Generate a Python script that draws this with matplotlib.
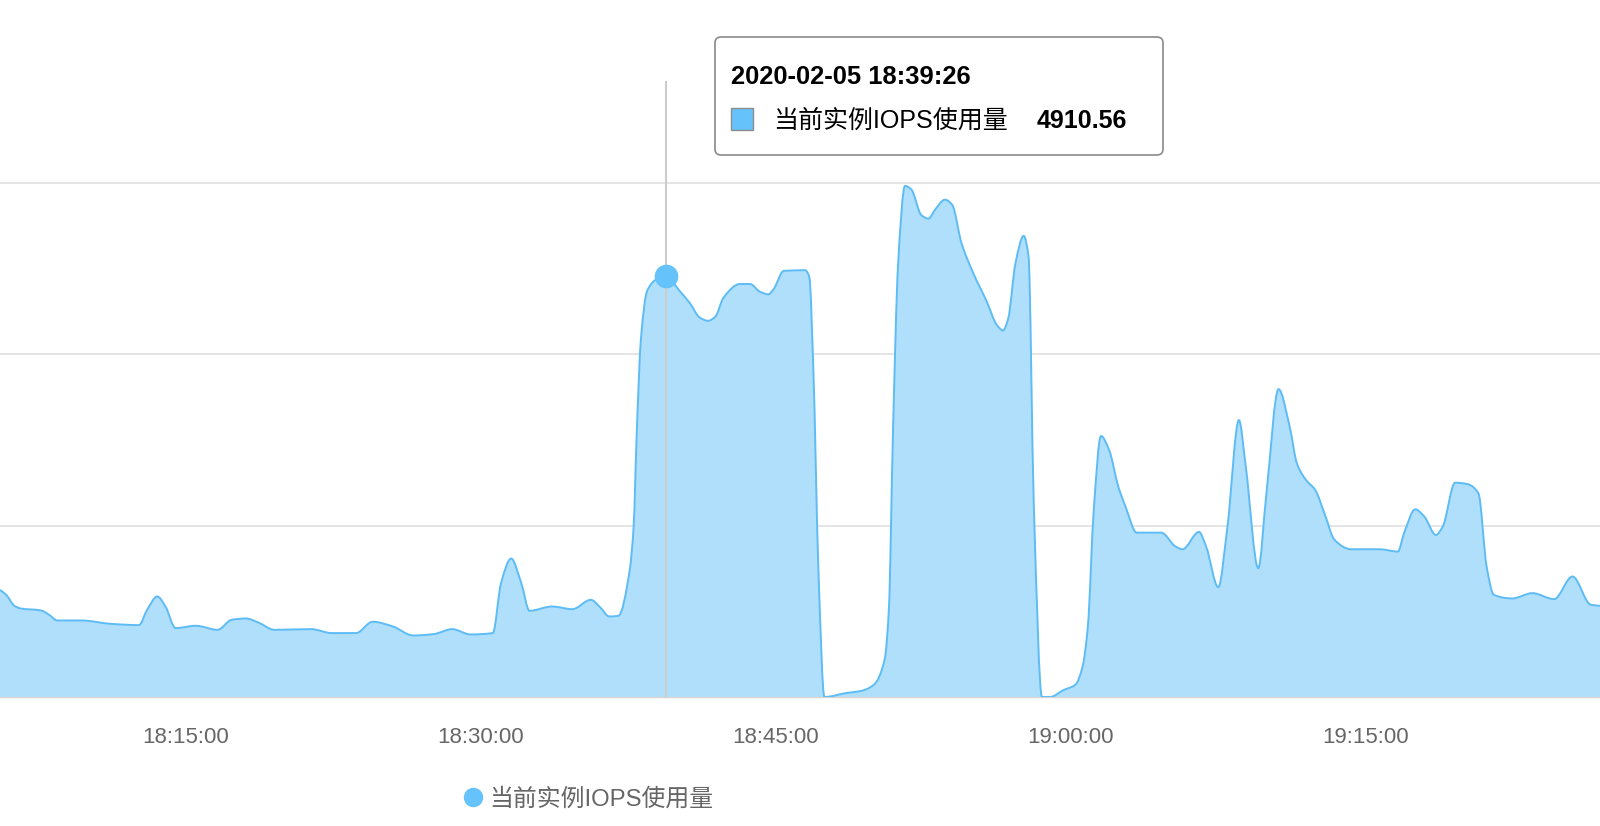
import numpy as np
import pandas as pd
import matplotlib
matplotlib.use("Agg")
import matplotlib.pyplot as plt
import matplotlib.dates as mdates
from matplotlib.path import Path
from matplotlib.patches import PathPatch, FancyBboxPatch, Rectangle
from matplotlib.lines import Line2D
from matplotlib.transforms import IdentityTransform

# ---------------- data ----------------
DATE = "2020-02-05"
series_name = "当前实例IOPS使用量"

times = [
    "18:05:33", "18:05:52", "18:06:17", "18:06:36", "18:07:38", "18:08:03", "18:08:28",
    "18:09:42", "18:11:10", "18:12:37", "18:13:02", "18:13:33", "18:13:58", "18:14:29",
    "18:15:31", "18:16:37", "18:17:20", "18:18:04", "18:18:41", "18:19:31", "18:21:23",
    "18:22:25", "18:23:40", "18:24:30", "18:25:32", "18:26:34", "18:27:37", "18:28:33",
    "18:29:29", "18:30:37", "18:31:02", "18:31:33", "18:32:04", "18:32:29", "18:33:38",
    "18:34:40", "18:35:36", "18:36:07", "18:36:32", "18:37:00", "18:37:35", "18:37:47",
    "18:37:56", "18:38:09", "18:38:28", "18:38:59", "18:39:26", "18:40:07", "18:40:38",
    "18:41:09", "18:41:34", "18:41:56", "18:42:21", "18:43:11", "18:43:42", "18:44:13",
    "18:44:38", "18:44:54", "18:45:25", "18:46:30", "18:46:43", "18:46:55", "18:47:11",
    "18:47:29", "18:48:38", "18:49:18", "18:49:59", "18:50:33", "18:50:46", "18:50:58",
    "18:51:14", "18:51:35", "18:51:54", "18:52:25", "18:52:47", "18:53:06", "18:53:37",
    "18:53:59", "18:54:27", "18:55:04", "18:55:44", "18:56:16", "18:56:34", "18:56:50",
    "18:57:12", "18:57:37", "18:57:52", "18:58:08", "18:58:33", "18:58:58", "18:59:38",
    "19:00:15", "19:00:37", "19:00:53", "19:01:11", "19:01:33", "19:01:58", "19:02:26",
    "19:02:48", "19:03:22", "19:04:37", "19:05:21", "19:05:42", "19:06:32", "19:06:54",
    "19:07:31", "19:07:59", "19:08:34", "19:08:55", "19:09:33", "19:09:58", "19:10:35",
    "19:11:09", "19:11:31", "19:11:59", "19:12:27", "19:12:55", "19:13:26", "19:14:16",
    "19:15:43", "19:16:39", "19:16:58", "19:17:32", "19:18:00", "19:18:35", "19:18:56",
    "19:19:34", "19:20:11", "19:20:45", "19:21:10", "19:21:32", "19:22:28", "19:23:30",
    "19:24:36", "19:25:32", "19:26:28", "19:26:56",
]
values = [
    1250, 1192, 1064, 1033, 1010, 959, 893,
    893, 854, 839, 1017, 1173, 1056, 804,
    831, 784, 901, 916, 870, 784, 792,
    746, 746, 878, 823, 718, 734, 792,
    730, 746, 1328, 1615, 1328, 1006, 1056,
    1025, 1134, 1037, 940, 947, 1486, 2008,
    3052, 4177, 4739, 4879, 4910.56, 4739, 4598,
    4426, 4390, 4438, 4659, 4819, 4819, 4727,
    4699, 4759, 4972, 4980, 4900, 3855, 1446,
    0, 48, 68, 140, 442, 1044, 3052,
    5060, 5964, 5924, 5622, 5582, 5683, 5803,
    5743, 5301, 4940, 4618, 4337, 4277, 4418,
    5060, 5381, 5140, 2249, 0, 0, 80,
    144, 357, 823, 2182, 3045, 2881, 2454,
    2221, 1918, 1918, 1755, 1724, 1926, 1755,
    1282, 1988, 3231, 2687, 1503, 2377, 3592,
    3153, 2726, 2532, 2415, 2144, 1833, 1724,
    1724, 1697, 1911, 2190, 2105, 1891, 1988,
    2501, 2485, 2377, 1522, 1192, 1150, 1212,
    1142, 1406, 1076, 1064,
]

tick_times = ["18:15:00", "18:30:00", "18:45:00", "19:00:00", "19:15:00"]
x_range = ["18:05:33", "19:26:56"]
y_range = [0, 8000]
grid_values = [2000, 4000, 6000]
hover_time = "18:39:26"
hover_value = 4910.56

# ---------------- style ----------------
W, H, DPI = 1600, 826, 100
LINE_C = "#5dbcf6"
FILL_C = "#b0dffb"
MARK_C = "#66c2fa"
plt.rcParams["font.family"] = ["Liberation Sans", "Noto Sans CJK SC"]


def to_num(ts):
    return mdates.date2num(pd.to_datetime([f"{DATE} {t}" for t in ts]))


x = np.asarray(to_num(times))
y = np.asarray(values, dtype=float)

# monotone cubic (Fritsch-Carlson) tangents -> Bezier path in data coords
h = np.diff(x)
d = np.diff(y) / h
m = np.zeros_like(y)
m[0], m[-1] = d[0], d[-1]
for i in range(1, len(y) - 1):
    if d[i - 1] * d[i] <= 0:
        m[i] = 0.0
    else:
        w1 = 2 * h[i] + h[i - 1]
        w2 = h[i] + 2 * h[i - 1]
        m[i] = (w1 + w2) / (w1 / d[i - 1] + w2 / d[i])

verts = [(x[0], y[0])]
codes = [Path.MOVETO]
for i in range(len(x) - 1):
    verts += [(x[i] + h[i] / 3, y[i] + m[i] * h[i] / 3),
              (x[i + 1] - h[i] / 3, y[i + 1] - m[i + 1] * h[i] / 3),
              (x[i + 1], y[i + 1])]
    codes += [Path.CURVE4] * 3

fig = plt.figure(figsize=(W / DPI, H / DPI), dpi=DPI)
ax_bottom_px, ax_top_px = 697, 11.4
ax = fig.add_axes([0, (H - ax_bottom_px) / H, 1, (ax_bottom_px - ax_top_px) / H])

fill_verts = verts + [(x[-1], 0), (x[0], 0), (x[0], 0)]
fill_codes = codes + [Path.LINETO, Path.LINETO, Path.CLOSEPOLY]
ax.add_patch(PathPatch(Path(fill_verts, fill_codes), facecolor=FILL_C, edgecolor="none", zorder=2))
ax.add_patch(PathPatch(Path(verts, codes), facecolor="none", edgecolor=LINE_C, lw=1.4, zorder=3))

ax.set_xlim(*to_num(x_range))
ax.set_ylim(*y_range)
ax.set_yticks(grid_values)
ax.yaxis.grid(True, color="#e3e3e3", lw=1.3, zorder=0)
ax.set_axisbelow(True)
ax.tick_params(axis="y", length=0, labelleft=False)
for s in ["top", "left", "right"]:
    ax.spines[s].set_visible(False)
ax.spines["bottom"].set_color("#d6d6d6")
ax.spines["bottom"].set_linewidth(1.0)

ax.set_xticks(to_num(tick_times))
ax.xaxis.set_major_formatter(mdates.DateFormatter("%H:%M:%S"))
ax.tick_params(axis="x", length=0, pad=21.5, labelsize=16, labelcolor="#666666")

# hover crosshair + marker
hx = to_num([hover_time])[0]
ax.axvline(hx, ymin=0, ymax=(ax_bottom_px - 82) / (ax_bottom_px - ax_top_px),
           color="#cccccc", lw=1.5, zorder=4)
ax.plot([hx], [hover_value], "o", ms=16, color=MARK_C, zorder=6, clip_on=False)

# tooltip
box = FancyBboxPatch((715, H - 155), 1163 - 715, 155 - 37,
                     boxstyle="round,pad=0,rounding_size=6",
                     transform=IdentityTransform(), facecolor="white",
                     edgecolor="#8a8a8a", lw=1.2, zorder=10)
fig.add_artist(box)
fig.text(731 / W, 1 - 77 / H, f"{DATE} {hover_time}", fontsize=18.4, fontweight="bold",
         color="black", ha="left", va="center", zorder=11)
sq = Rectangle((731, H - 130), 22, 22, transform=IdentityTransform(),
               facecolor=MARK_C, edgecolor="#8c8c8c", lw=1.0, zorder=11)
fig.add_artist(sq)
fig.text(773 / W, 1 - 121 / H, series_name, fontsize=18, color="black",
         ha="left", va="center", zorder=11)
fig.text(1037 / W, 1 - 121 / H, f"{hover_value:.2f}", fontsize=18, fontweight="bold",
         color="black", ha="left", va="center", zorder=11)

# legend
handle = Line2D([], [], marker="o", ls="", color=MARK_C, markersize=13)
fig.legend(handles=[handle], labels=[series_name], loc="center",
           bbox_to_anchor=(587 / W, 1 - 799 / H), frameon=False, fontsize=17.2,
           labelcolor="#666666", handletextpad=0.2, handlelength=1.0)

fig.savefig("out.png", dpi=DPI)
